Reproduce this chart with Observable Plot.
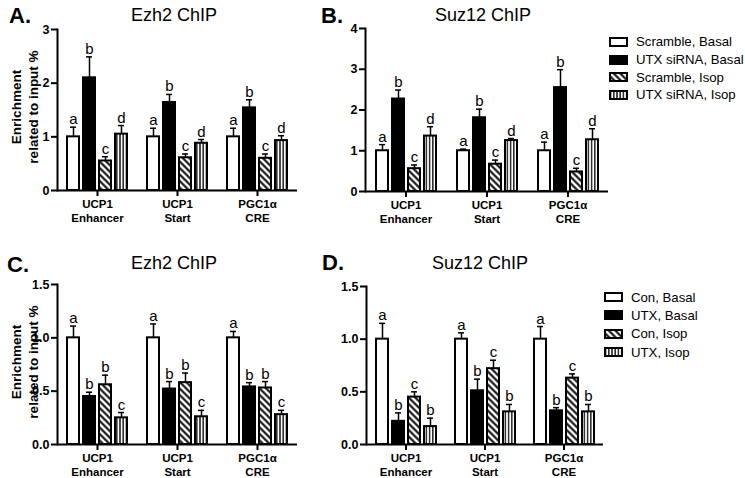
<!DOCTYPE html>
<html>
<head>
<meta charset="utf-8">
<script src="https://cdn.jsdelivr.net/npm/d3@7"></script>
<script src="https://cdn.jsdelivr.net/npm/@observablehq/plot@0.6"></script>
<style>
  html, body { margin: 0; padding: 0; background: #fff; }
  body { font-family: "Liberation Sans", Arial, sans-serif; }
  #root { position: relative; width: 745px; height: 478px; overflow: hidden; background: #fff; }
  .panel { position: absolute; }
  .lbl { position: absolute; white-space: nowrap; line-height: 1; color: #000; }
  .plabel { font-weight: bold; font-size: 22px; }
  .title { font-size: 18px; }
  .ylab { position: absolute; font-weight: bold; font-size: 13.5px; line-height: 16.5px; text-align: center;
          white-space: nowrap; transform: translate(-50%, -50%) rotate(-90deg); }
  .legend { position: absolute; font-size: 13.2px; }
  .legend .row { display: flex; align-items: center; height: 18px; white-space: nowrap; }
  .legend svg { margin-right: 8px; overflow: visible; }
  #root svg g[aria-label="y-axis tick label"] { font-weight: bold !important; font-size: 12.5px !important; fill: #000 !important; }
  #root svg g[aria-label="fx-axis tick label"] { font-weight: bold !important; fill: #000 !important; }
</style>
</head>
<body>
<svg width="0" height="0" style="position:absolute">
  <defs>
    <pattern id="hatch" patternUnits="userSpaceOnUse" width="4.6" height="4.6" patternTransform="rotate(-45)">
      <rect width="4.6" height="4.6" fill="white"/>
      <line x1="2.3" y1="-1" x2="2.3" y2="6" stroke="black" stroke-width="2"/>
    </pattern>
    <pattern id="vstripe" patternUnits="userSpaceOnUse" width="3.2" height="10">
      <rect width="3.2" height="10" fill="white"/>
      <line x1="1.6" y1="-1" x2="1.6" y2="11" stroke="black" stroke-width="1.3"/>
    </pattern>
  </defs>
</svg>
<div id="root"></div>
<script>
// ---------- data ----------
const groups = ["UCP1\nEnhancer", "UCP1\nStart", "PGC1α\nCRE"];
const seriesTop = ["Scramble, Basal", "UTX siRNA, Basal", "Scramble, Isop", "UTX siRNA, Isop"];
const seriesBottom = ["Con, Basal", "UTX, Basal", "Con, Isop", "UTX, Isop"];

// Panel A: Ezh2 ChIP (siRNA)
const aValues  = [1.00, 2.10, 0.55, 1.05,   1.00, 1.64, 0.61, 0.88,   1.00, 1.54, 0.60, 0.93];
const aErrors  = [1.18, 2.49, 0.63, 1.21,   1.16, 1.79, 0.68, 0.95,   1.16, 1.69, 0.68, 1.02];
const aLetters = ["a","b","c","d",  "a","b","c","d",  "a","b","c","d"];

// Panel B: Suz12 ChIP (siRNA)
const bValues  = [1.00, 2.27, 0.56, 1.36,   1.00, 1.81, 0.67, 1.25,   1.00, 2.55, 0.48, 1.27];
const bErrors  = [1.15, 2.49, 0.65, 1.59,   1.04, 2.02, 0.77, 1.30,   1.21, 2.99, 0.57, 1.54];
const bLetters = ["a","b","c","d",  "a","b","c","d",  "a","b","c","d"];

// Panel C: Ezh2 ChIP (Con/UTX)
const cValues  = [1.00, 0.45, 0.56, 0.25,   1.00, 0.52, 0.58, 0.26,   1.00, 0.54, 0.53, 0.28];
const cErrors  = [1.11, 0.49, 0.65, 0.30,   1.13, 0.59, 0.67, 0.32,   1.06, 0.58, 0.59, 0.32];
const cLetters = ["a","b","b","c",  "a","b","b","c",  "a","b","b","c"];

// Panel D: Suz12 ChIP (Con/UTX)
const dValues  = [1.00, 0.22, 0.45, 0.17,   1.00, 0.51, 0.72, 0.31,   1.00, 0.32, 0.63, 0.31];
const dErrors  = [1.15, 0.30, 0.50, 0.25,   1.06, 0.62, 0.80, 0.38,   1.12, 0.35, 0.67, 0.38];
const dLetters = ["a","b","c","b",  "a","b","c","b",  "a","b","c","b"];

const yTicksAB = [[0,1,2,3], [0,1,2,3,4]];
const yTicksCD = [0, 0.5, 1.0, 1.5];

// ---------- styling ----------
const fills = ["white", "black", "url(#hatch)", "url(#vstripe)"];
const FONT = '"Liberation Sans", Arial, sans-serif';

function rows(series, values, errors, letters) {
  const out = [];
  groups.forEach((g, gi) => series.forEach((s, si) => {
    const k = gi * series.length + si;
    out.push({group: g, series: s, value: values[k], err: errors[k], letter: letters[k]});
  }));
  return out;
}

function panel({series, values, errors, letters, yDomain, ticks, fmt, left, top, width, height, mL, mR, mT, mB}) {
  const data = rows(series, values, errors, letters);
  const chart = Plot.plot({
    width, height,
    marginLeft: mL, marginRight: mR, marginTop: mT, marginBottom: mB,
    style: {fontFamily: FONT, background: "transparent", overflow: "visible", color: "black"},
    fx: {domain: groups, padding: 0, label: null},
    x: {domain: series, paddingInner: 0.27, paddingOuter: 0.56, axis: null},
    y: {domain: yDomain, label: null},
    color: {domain: series, range: fills},
    marks: [
      Plot.ruleX(data, {fx: "group", x: "series", y1: "value", y2: "err", stroke: "black", strokeWidth: 1.5}),
      Plot.tickY(data, {fx: "group", x: "series", y: "err", stroke: "black", strokeWidth: 1.5, inset: 3}),
      Plot.barY(data, {fx: "group", x: "series", y: "value", fill: "series", stroke: "black", strokeWidth: 2}),
      Plot.text(data, {fx: "group", x: "series", y: "err", text: "letter", dy: -3, lineAnchor: "bottom", fontSize: 15, fill: "black"}),
      Plot.ruleY([0], {stroke: "black", strokeWidth: 2}),
      Plot.frame({anchor: "left", stroke: "black", strokeWidth: 2, facetAnchor: "left"}),
      Plot.axisY({ticks, tickFormat: fmt, tickSize: 6, tickPadding: 2, stroke: "black", strokeWidth: 2,
                  fontSize: 12.5, fontWeight: "bold", label: null, facetAnchor: "left"}),
      Plot.axisFx({tickSize: 6, tickPadding: 2, stroke: "black", strokeWidth: 2, fontSize: 11.5, fontWeight: "bold",
                   lineHeight: 1.2, label: null, anchor: "bottom"})
    ]
  });
  const wrap = document.createElement("div");
  wrap.className = "panel";
  wrap.style.left = left + "px";
  wrap.style.top = top + "px";
  wrap.appendChild(chart);
  document.getElementById("root").appendChild(wrap);
}

panel({series: seriesTop, values: aValues, errors: aErrors, letters: aLetters, yDomain: [0, 3], ticks: yTicksAB[0], fmt: "d",
       left: 0, top: 0, width: 310, height: 232, mL: 57, mR: 13, mT: 29, mB: 42});
panel({series: seriesTop, values: bValues, errors: bErrors, letters: bLetters, yDomain: [0, 4], ticks: yTicksAB[1], fmt: "d",
       left: 300, top: 0, width: 320, height: 232, mL: 65, mR: 12, mT: 28, mB: 41});
panel({series: seriesBottom, values: cValues, errors: cErrors, letters: cLetters, yDomain: [0, 1.5], ticks: yTicksCD, fmt: ".1f",
       left: 0, top: 240, width: 310, height: 238, mL: 57, mR: 13, mT: 44, mB: 34});
panel({series: seriesBottom, values: dValues, errors: dErrors, letters: dLetters, yDomain: [0, 1.5], ticks: yTicksCD, fmt: ".1f",
       left: 300, top: 240, width: 320, height: 238, mL: 66, mR: 17, mT: 46, mB: 34});

// ---------- text labels ----------
const root = document.getElementById("root");
function addText(cls, txt, x, y, extra) {
  const d = document.createElement("div");
  d.className = "lbl " + cls;
  d.textContent = txt;
  d.style.left = x + "px";
  d.style.top = y + "px";
  if (extra) Object.assign(d.style, extra);
  root.appendChild(d);
  return d;
}
addText("plabel", "A.", 9, 5);
addText("title", "Ezh2 ChIP", 131, 6);
addText("plabel", "B.", 321, 5);
addText("title", "Suz12 ChIP", 435, 6);
addText("plabel", "C.", 7, 254);
addText("title", "Ezh2 ChIP", 131, 254);
addText("plabel", "D.", 322, 252);
addText("title", "Suz12 ChIP", 432, 254);

function yLabel(cx, cy) {
  const d = document.createElement("div");
  d.className = "ylab";
  d.innerHTML = "Enrichment<br>related to input %";
  d.style.left = cx + "px";
  d.style.top = cy + "px";
  root.appendChild(d);
}
yLabel(25, 107);
yLabel(25, 362);

// ---------- legends ----------
function legend(series, x, y, rowH) {
  const box = document.createElement("div");
  box.className = "legend";
  box.style.left = x + "px";
  box.style.top = y + "px";
  series.forEach((s, i) => {
    const r = document.createElement("div");
    r.className = "row";
    r.style.height = rowH + "px";
    r.innerHTML = `<svg width="19" height="10"><rect x="1" y="1" width="17" height="8" fill="${fills[i]}" stroke="black" stroke-width="2"/></svg><span>${s}</span>`;
    box.appendChild(r);
  });
  root.appendChild(box);
}
legend(seriesTop, 609, 33, 17.7);
legend(seriesBottom, 604, 288, 18.3);
</script>
</body>
</html>
